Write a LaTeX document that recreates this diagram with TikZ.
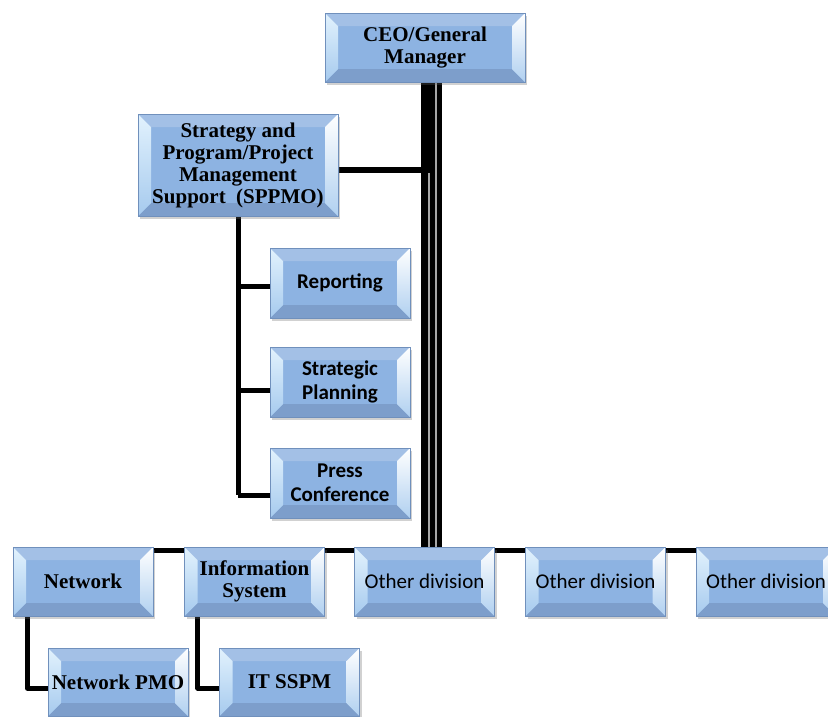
\documentclass[tikz,border=0pt]{standalone}
\usepackage{fontspec}
\newfontfamily\tnrfont{Liberation Serif}
\newfontfamily\calfont{Carlito}
\usetikzlibrary{calc,shadows,backgrounds}
\definecolor{face}{HTML}{8DB3E2}
\definecolor{bord}{HTML}{7090BC}
\definecolor{bevtop}{HTML}{A3C0E6}
\definecolor{bevbot}{HTML}{7D9ECB}
\definecolor{bevlA}{HTML}{E2F2FD}
\definecolor{bevlB}{HTML}{A6CAEE}
\definecolor{bevrB}{HTML}{B0D0F0}
\tikzset{
  bevbox/.style={draw=bord, line width=0.5pt, fill=face, inner sep=0pt, align=center,
    minimum width=140pt, minimum height=69pt,
    drop shadow={shadow xshift=2pt, shadow yshift=-3pt, opacity=0.3, fill=black!60},
    path picture={
      \path (path picture bounding box.north west) coordinate (pNW)
            (path picture bounding box.north east) coordinate (pNE)
            (path picture bounding box.south west) coordinate (pSW)
            (path picture bounding box.south east) coordinate (pSE);
      \path ([shift={(13pt,-13pt)}]pNW) coordinate (iNW)
            ([shift={(-13pt,-13pt)}]pNE) coordinate (iNE)
            ([shift={(13pt,13pt)}]pSW) coordinate (iSW)
            ([shift={(-13pt,13pt)}]pSE) coordinate (iSE);
      \fill[bevtop] (pNW) -- (pNE) -- (iNE) -- (iNW) -- cycle;
      \fill[bevbot] (pSW) -- (pSE) -- (iSE) -- (iSW) -- cycle;
      \shade[top color=bevlA, bottom color=bevlB] (pNW) -- (iNW) -- (iSW) -- (pSW) -- cycle;
      \shade[top color=white, bottom color=bevrB] (pNE) -- (iNE) -- (iSE) -- (pSE) -- cycle;
    }},
  serifbox/.style={bevbox, font=\fontsize{21}{22}\selectfont\tnrfont\bfseries},
  calbbox/.style={bevbox, font=\fontsize{21}{24}\selectfont\calfont\bfseries},
  calrbox/.style={bevbox, font=\fontsize{21}{24}\selectfont\calfont},
  hline/.style={draw=black, line width=5pt},
}
\begin{document}
\begin{tikzpicture}[x=1pt,y=-1pt]
\clip (0,0) rectangle (828,716);

\node[serifbox, minimum width=200pt, minimum height=69pt] (ceo) at (425,47.5) {CEO/General\\Manager};
\node[serifbox, minimum width=200pt, minimum height=102pt] (sppmo) at (238,165) {Strategy and\\Program/Project\\Management\\Support\ \ (SPPMO)};
\node[calbbox, minimum height=70pt] (rep) at (340,283) {Reporting};
\node[calbbox, minimum height=70pt] (strat) at (340,382) {Strategic\\Planning};
\node[calbbox, minimum height=70pt] (press) at (340,483) {Press\\Conference};

\node[serifbox] (net) at (83,581.5) {Network};
\node[serifbox] (is) at (254.5,581.5) {Information\\System};
\node[calrbox] (od1) at (424.5,581.5) {Other division};
\node[calrbox] (od2) at (595.5,581.5) {Other division};
\node[calrbox] (od3) at (766,581.5) {Other division};

\node[serifbox, minimum height=68pt] (pmo) at (118,682) {Network PMO};
\node[serifbox, minimum height=68pt] (it) at (289.5,682) {IT SSPM};

\begin{scope}[on background layer]
  % trunk from CEO to the division row
  \draw[draw=black!35, line width=21pt] ([xshift=6.5pt]ceo.south) -- ([xshift=6.5pt]ceo.south |- od1.north);
  \draw[draw=black, line width=7pt] ([xshift=-0.5pt]ceo.south) -- ([xshift=-0.5pt]ceo.south |- od1.north);
  \draw[draw=black, line width=5pt] ([xshift=7.5pt]ceo.south) -- ([xshift=7.5pt]ceo.south |- od1.north);
  \draw[draw=black, line width=5pt] ([xshift=14.5pt]ceo.south) -- ([xshift=14.5pt]ceo.south |- od1.north);
  \draw[draw=black, line width=3pt] ([xshift=4pt]ceo.south) -- ([xshift=4pt,yshift=-8pt]ceo.south |- sppmo.east);
  % CEO to SPPMO
  \draw[draw=black, line width=6pt] ([yshift=-5pt]sppmo.east) -- ([yshift=-5pt]sppmo.east -| ceo.south);
  % SPPMO tree
  \draw[hline] (sppmo.south) -- ([yshift=-12pt]sppmo.south |- press.west);
  \draw[hline] ([yshift=-3pt]rep.west) -- ([yshift=-3pt]rep.west -| sppmo.south);
  \draw[hline] ([yshift=-8pt]strat.west) -- ([yshift=-8pt]strat.west -| sppmo.south);
  \draw[hline] ([yshift=-12pt]press.west) -- ([yshift=-12pt]press.west -| sppmo.south);
  % division row
  \draw[hline] ([yshift=-4pt]net.north east) -- ([yshift=-4pt]od3.north west);
  % sub units
  \draw[hline, line join=round] ([xshift=14.5pt]net.south west) |- ([yshift=-6pt]pmo.west);
  \draw[hline, line join=round] ([xshift=13.5pt]is.south west) |- ([yshift=-6pt]it.west);
\end{scope}
\end{tikzpicture}
\end{document}
